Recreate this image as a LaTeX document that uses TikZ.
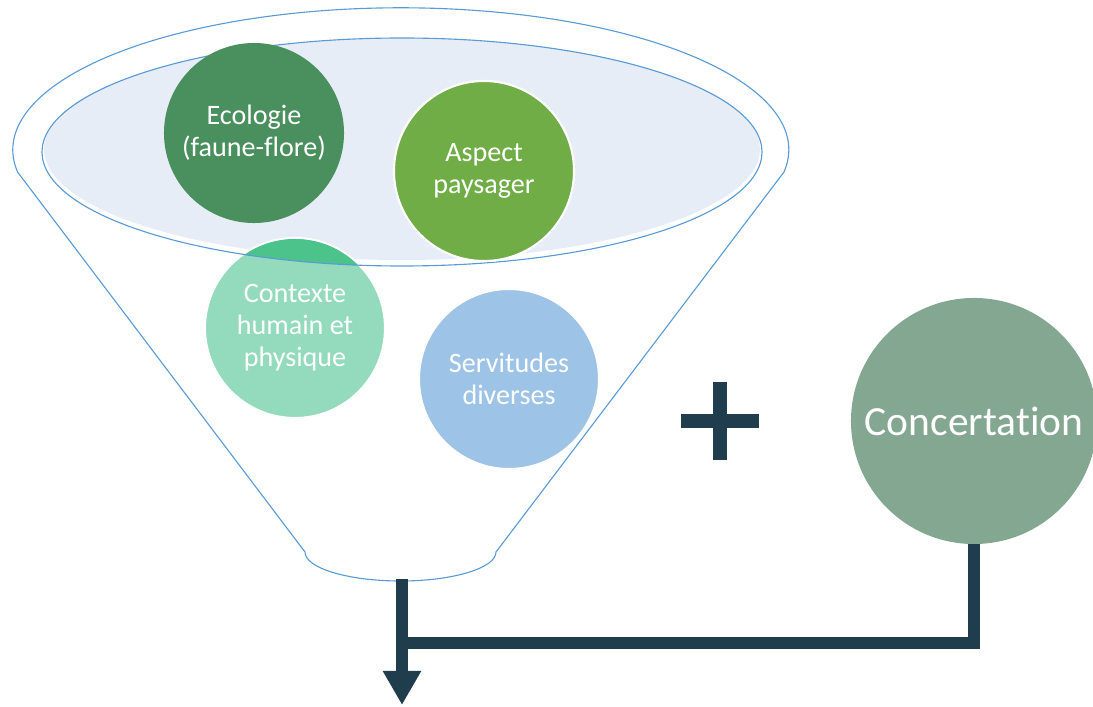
\documentclass[tikz,border=0pt]{standalone}
\usepackage{fontspec}
\setmainfont{Carlito}[Ligatures={NoCommon}]
\usepackage{tikz}
\usetikzlibrary{positioning}
\usetikzlibrary{arrows.meta}

\definecolor{rimblue}{HTML}{5B9BD5}
\definecolor{mouthfill}{HTML}{E6EDF7}
\definecolor{ecogreen}{HTML}{4A8F5E}
\definecolor{landgreen}{HTML}{70AD47}
\definecolor{ctxlight}{HTML}{93DBBC}
\definecolor{ctxdark}{HTML}{4CC38A}
\definecolor{servblue}{HTML}{9DC3E6}
\definecolor{concgreen}{HTML}{84A792}
\definecolor{pipe}{HTML}{1F3D4D}

\begin{document}
\begin{tikzpicture}[x=0.025cm,y=0.025cm,
    funnel/.style={draw=rimblue,line width=0.8pt},
    bubble/.style={circle,draw=white,line width=1.5pt,minimum size=4.5cm,
      inner sep=0pt,align=center,text=white,font=\fontsize{20}{22.8}\selectfont},
    bigbubble/.style={circle,fill=concgreen,minimum size=6.15cm,inner sep=0pt,
      text=white,font=\fontsize{29.5}{33}\selectfont},
    pipeline/.style={draw=pipe,line width=0.3cm,line join=miter}]
  \useasboundingbox (0,0) rectangle (1093,706);

  % Draw the funnel body
  \draw[funnel] (784,534) arc[start angle=-9,end angle=189,x radius=388,y radius=142]
    -- (305,154) arc[start angle=180,end angle=360,x radius=95.5,y radius=29] -- cycle;
  \coordinate (spout) at (402,127);

  % Mouth of the funnel
  \fill[mouthfill] (402,557) ellipse[x radius=358,y radius=111];

  % Bubble half inside the mouth
  \node[bubble,fill=ctxlight] (ctx) at (295,378) {Contexte\\humain et\\physique};
  \begin{scope}
    \clip (402,554) ellipse[x radius=360,y radius=114];
    \fill[ctxdark] (ctx.center) circle[radius=89];
  \end{scope}
  \draw[funnel] (402,554) ellipse[x radius=360,y radius=114];

  % Bubbles in the mouth
  \node[bubble,fill=ecogreen,draw=none] (eco) at (254,573) {Ecologie\\(faune-flore)};
  \node[bubble,fill=landgreen] (land) at (484,535) {Aspect\\paysager};
  \node[bubble,fill=servblue] (serv) at (509,327) {Servitudes\\diverses};

  % Plus sign
  \fill[pipe] (713,246) rectangle (727,324);
  \fill[pipe] (681,278) rectangle (759,292);

  % Concertation
  \node[bigbubble] (conc) at (974,285) {Concertation};

  % Connect to the output
  \coordinate (join) at (396,63.5);
  \coordinate (out) at (402,1);
  \draw[pipeline,-{Triangle[length=0.85cm,width=0.9cm]}] (spout) -- (out);
  \draw[pipeline] (conc.south) |- (join);

\end{tikzpicture}
\end{document}
